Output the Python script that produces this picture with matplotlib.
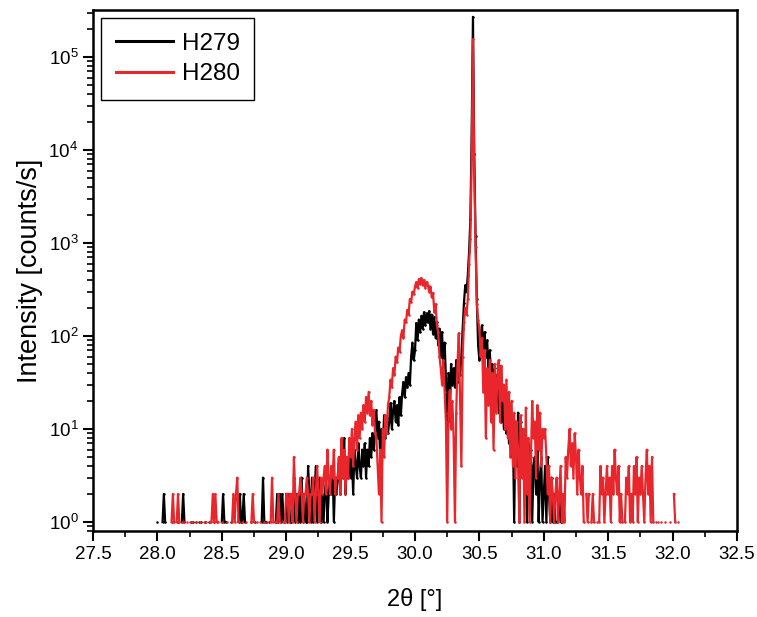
import numpy as np
import matplotlib
matplotlib.use("Agg")
import matplotlib.pyplot as plt
from matplotlib.ticker import MultipleLocator, LogLocator, FuncFormatter, NullFormatter

plt.rcParams['font.family'] = ['Liberation Sans', 'DejaVu Sans']
plt.rcParams['mathtext.default'] = 'regular'

# scan grid (2theta start / step), counts per 0.1 deg block
scan_start = 28.00
scan_step = 0.01

h279_counts = [
    # 28.0
    1,0,0,0,1,2,1,0,0,0,  0,1,0,0,0,0,1,0,0,1,  2,1,0,0,0,0,1,0,1,0,  1,0,1,0,1,0,0,1,0,0,
    1,0,0,0,1,0,0,0,0,0,  1,2,1,1,0,0,0,1,0,0,  0,0,0,1,2,1,1,2,1,0,  0,0,0,1,0,0,1,0,0,0,
    0,1,3,1,1,0,0,1,0,0,  0,0,1,2,1,2,1,2,1,0,
    # 29.0
    2,1,2,1,1,0,3,1,2,1,  2,1,3,1,2,1,1,4,2,1,  3,1,2,4,1,2,3,1,2,1,  2,3,1,2,3,2,4,1,3,2,
    3,5,2,7,3,8,2,4,3,6,  3,5,2,6,4,3,7,4,3,6,  4,7,3,6,4,8,5,9,6,10, 16,8,12,5,10,6,14,8,13,9,
    12,19,10,16,20,12,18,11,22,14,  24,32,22,36,28,40,30,60,85,55,
    # 30.0
    70,138,90,150,110,165,120,180,130,175,  140,185,120,170,105,160,95,140,80,120,
    60,110,45,85,35,8,40,12,50,30,  45,28,55,32,50,38,60,120,225,350,
    300,450,800,1800,15000,270000,9000,1200,250,80,  55,100,130,75,110,60,90,45,70,40,
    50,25,45,20,38,15,30,12,28,10,  22,9,16,7,14,5,10,1,12,4,
    15,1,12,6,10,2,8,1,7,3,  6,1,4,5,2,6,1,3,5,1,
    # 31.0
    2,4,1,5,2,1,3,1,2,1,  1,0,2,1,1,0,0,0,0,0,  0,0,0,0,0,0,0,0,0,0,  0,0,0,0,0,0,0,0,0,0,
    0,0,0,0,0,0,0,0,0,0,  0,0,0,0,0,0,0,0,0,0,  0,0,0,0,0,0,0,0,0,0,  0,0,0,0,0,0,0,0,0,0,
    0,0,0,0,0,0,0,0,0,0,  0,0,0,0,0,0,0,0,0,0,
    # 32.0
    0,0,0,0,0,
]

h280_counts = [
    # 28.0
    0,0,0,0,0,0,0,0,0,0,  0,1,2,1,0,1,2,1,0,1,  0,1,0,1,0,1,0,1,0,0,  1,0,0,1,0,0,1,0,1,0,
    0,1,1,2,1,2,1,1,0,0,  1,0,0,0,1,0,0,0,1,2,  1,2,3,1,0,0,1,0,0,1,  0,0,0,1,2,1,0,1,0,0,
    1,0,0,1,0,1,0,0,1,3,  1,1,0,1,2,1,0,0,1,1,
    # 29.0
    2,2,1,2,2,1,5,2,1,2,  2,3,2,1,2,2,3,2,1,2,  2,3,1,2,4,2,1,3,2,3,  4,2,6,3,2,4,3,6,2,3,
    3,5,2,8,3,6,2,5,3,8,  5,10,4,8,12,6,14,8,15,10,  18,12,22,15,25,14,20,11,16,9,
    8,4,2,6,1,10,5,14,9,18,  22,34,28,45,38,60,52,75,68,100,
    115,95,150,140,190,170,250,230,300,280,
    # 30.0
    340,380,330,410,360,420,350,400,330,380,  350,300,340,260,290,180,220,130,110,60,
    45,30,55,25,12,1,15,26,10,20,  8,1,15,50,107,20,4,60,140,200,
    170,250,600,1100,8000,155000,6000,900,220,150,  120,60,95,25,70,8,45,18,55,12,
    40,6,50,15,35,55,12,48,20,30,  10,34,8,25,5,20,4,15,3,12,
    6,1,14,3,10,1,17,2,8,1,  5,20,8,12,3,18,6,15,4,10,
    # 31.0
    8,10,5,2,4,1,3,2,1,2,  3,1,2,4,1,2,1,5,3,6,  10,4,7,3,9,5,2,6,3,2,  4,1,0,2,1,2,0,1,2,1,
    0,1,0,1,4,2,3,1,2,4,  2,3,1,4,2,6,3,2,4,1,  2,1,0,1,3,2,4,1,2,1,  4,2,5,1,3,2,4,2,1,3,
    6,2,4,1,5,1,0,1,0,1,  0,1,0,0,1,0,0,0,1,0,
    # 32.0
    0,2,1,0,1,
]

x_ticks = [27.5, 28.0, 28.5, 29.0, 29.5, 30.0, 30.5, 31.0, 31.5, 32.0, 32.5]
series_names = ['H279', 'H280']
series_colors = ['#000000', '#E8262B']


def to_xy(counts):
    c = np.asarray(counts, dtype=float)
    x = scan_start + scan_step * np.arange(len(c))
    c[c <= 0] = np.nan
    return x, c


fig = plt.figure(figsize=(7.57, 6.17), dpi=100)
ax = fig.add_axes([93 / 757, 1 - 531 / 617, 644 / 757, 521 / 617])

for counts, name, col in zip([h279_counts, h280_counts], series_names, series_colors):
    x, y = to_xy(counts)
    ax.plot(x, y, color=col, lw=1.6, marker='o', ms=1.8, mec='none', label=name)

ax.set_yscale('log')
ax.set_xlim(27.5, 32.5)
ax.set_ylim(0.8, 3.2e5)

ax.set_xticks(x_ticks)
ax.set_xticklabels([f"{t:.1f}" for t in x_ticks])
ax.xaxis.set_minor_locator(MultipleLocator(0.25))
ax.yaxis.set_major_locator(LogLocator(base=10, numticks=10))
ax.yaxis.set_minor_locator(LogLocator(base=10, subs=np.arange(2, 10), numticks=20))
ax.yaxis.set_major_formatter(FuncFormatter(lambda v, p: f"$10^{{{int(round(np.log10(v)))}}}$"))
ax.yaxis.set_minor_formatter(NullFormatter())

for s in ax.spines.values():
    s.set_linewidth(1.8)
ax.tick_params(axis='both', which='major', direction='out', length=7, width=1.5,
               labelsize=13.5, top=False, right=False)
ax.tick_params(axis='both', which='minor', direction='out', length=4, width=1.2,
               top=False, right=False)
ax.tick_params(axis='y', which='major', labelsize=13.5)

ax.set_xlabel('2θ [°]', fontsize=17, labelpad=18)
ax.set_ylabel('Intensity [counts/s]', fontsize=19.5, labelpad=4)

leg = ax.legend(loc='upper left', fontsize=17.5, frameon=True, fancybox=False,
                edgecolor='black', framealpha=1, borderaxespad=0.33,
                handlelength=2.35, handletextpad=0.37, labelspacing=0.35,
                borderpad=0.6, markerscale=0)
leg.get_frame().set_linewidth(1.0)
for h in leg.get_lines():
    h.set_linewidth(2.2)
    h.set_marker('')

fig.savefig('out.png', dpi=100)
